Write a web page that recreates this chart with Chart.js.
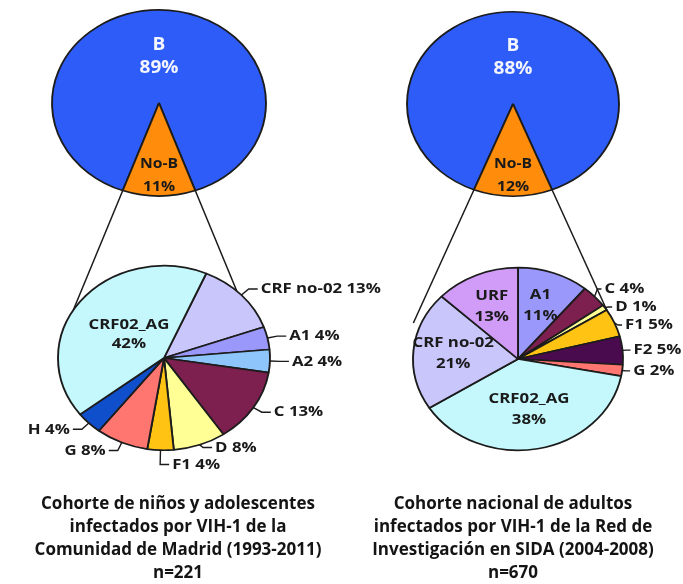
<!DOCTYPE html>
<html>
<head>
<meta charset="utf-8">
<script src="https://cdn.jsdelivr.net/npm/chart.js@4.4.1/dist/chart.umd.min.js"></script>
<style>
  html, body { margin: 0; padding: 0; background: #ffffff; }
  #stage { position: relative; width: 683px; height: 584px; overflow: hidden; }
  #stage canvas { position: absolute; left: 0; top: 0; }
  .cap {
    position: absolute; top: 491px; width: 380px;
    text-align: center; color: #141414;
    font: bold 17px "Open Sans", Lato, sans-serif; line-height: 23px;
  }
</style>
</head>
<body>
<div id="stage">
  <canvas id="splitMadrid" width="683" height="584"></canvas>
  <canvas id="splitRed" width="683" height="584"></canvas>
  <canvas id="subtypesMadrid" width="683" height="584"></canvas>
  <canvas id="subtypesRed" width="683" height="584"></canvas>
  <div class="cap" style="left:-12px">Cohorte de niños y adolescentes<br>infectados por VIH-1 de la<br>Comunidad de Madrid (1993-2011)<br>n=221</div>
  <div class="cap" style="left:323px">Cohorte nacional de adultos<br>infectados por VIH-1 de la Red de<br>Investigación en SIDA (2004-2008)<br>n=670</div>
</div>
<script>
// ---- data (percentages) ----
const splitLabels = ['B', 'No-B'];
const madridSplit = [89, 11];
const redSplit = [88, 12];

const madridSubtypes = ['CRF no-02', 'A1', 'A2', 'C', 'D', 'F1', 'G', 'H', 'CRF02_AG'];
const madridShares = [13, 4, 4, 13, 8, 4, 8, 4, 42];

const redSubtypes = ['A1', 'C', 'D', 'F1', 'F2', 'G', 'CRF02_AG', 'CRF no-02', 'URF'];
const redShares = [11, 4, 1, 5, 5, 2, 38, 21, 13];

// ---- styling ----
const subtypeColors = {
  'B': '#2e5cf8', 'No-B': '#ff8c0a',
  'CRF02_AG': '#c4f8fc', 'CRF no-02': '#c8c6fb', 'URF': '#d19cf7',
  'A1': '#9a98fa', 'A2': '#8ec5fa', 'C': '#7d1f4f', 'D': '#ffff96',
  'F1': '#ffc313', 'F2': '#4a0a4e', 'G': '#ff7570', 'H': '#0f4fcc'
};
const SQUASH = 0.87;    // vertical flattening of the pies
const STRETCH = 1.12;   // horizontal widening of the lettering
const INK = '#1a1a1a';
const FONT = '"Open Sans", Lato, sans-serif';
const W = 683, H = 584;

function drawText(ctx, text, x, y, align, size, color) {
  ctx.save();
  ctx.font = 'bold ' + size + 'px ' + FONT;
  ctx.fillStyle = color;
  ctx.textAlign = align;
  ctx.textBaseline = 'middle';
  ctx.translate(x, y);
  ctx.scale(STRETCH, 1);
  ctx.fillText(text, 0, 0);
  ctx.restore();
}

// flattens the round pie into an ellipse around its centre
const ellipsePlugin = {
  id: 'ellipse',
  beforeDatasetsDraw(chart) {
    const arc = chart.getDatasetMeta(0).data[0];
    const ctx = chart.ctx;
    ctx.save();
    ctx.translate(arc.x, arc.y);
    ctx.scale(1, SQUASH);
    ctx.translate(-arc.x, -arc.y);
  },
  afterDatasetsDraw(chart) {
    chart.ctx.restore();
  }
};

// value labels: two-line labels inside big slices, leader-line labels outside small ones
const sliceLabelPlugin = {
  id: 'sliceLabels',
  afterDraw(chart, args, o) {
    const ctx = chart.ctx;
    const meta = chart.getDatasetMeta(0);
    const values = chart.data.datasets[0].data;
    const outside = [];
    meta.data.forEach((arc, i) => {
      const name = chart.data.labels[i];
      const pct = values[i] + '%';
      const mid = (arc.startAngle + arc.endAngle) / 2;
      const R = arc.outerRadius;
      const cos = Math.cos(mid), sin = Math.sin(mid);
      const inside = o.inside[name];
      if (inside !== undefined) {
        const x = arc.x + cos * R * inside;
        const y = arc.y + sin * R * inside * SQUASH;
        const color = (o.light || []).includes(name) ? '#f4f6ff' : INK;
        const size = (o.sizes && o.sizes[name]) || o.size;
        drawText(ctx, name, x, y - o.lineGap / 2, 'center', size, color);
        drawText(ctx, pct, x, y + o.lineGap / 2, 'center', size, color);
      } else {
        const right = cos > -0.1;
        outside.push({
          text: name + ' ' + pct, right,
          ex: arc.x + cos * R, ey: arc.y + sin * R * SQUASH,
          tx: arc.x + cos * (R + o.leader), ty: arc.y + sin * (R + o.leader) * SQUASH
        });
      }
    });
    // spread labels on each side so they do not collide
    [true, false].forEach(side => {
      const group = outside.filter(l => l.right === side).sort((a, b) => a.ty - b.ty);
      for (let it = 0; it < 30; it++) {
        for (let j = 1; j < group.length; j++) {
          const d = group[j].ty - group[j - 1].ty;
          if (d < o.spacing) {
            const m = (o.spacing - d) / 2;
            group[j - 1].ty -= m;
            group[j].ty += m;
          }
        }
      }
    });
    ctx.save();
    ctx.strokeStyle = INK;
    ctx.lineWidth = 1.4;
    outside.forEach(l => {
      const dir = l.right ? 1 : -1;
      const endX = l.tx + dir * o.tail;
      ctx.beginPath();
      ctx.moveTo(l.ex, l.ey);
      ctx.lineTo(l.tx, l.ty);
      ctx.lineTo(endX, l.ty);
      ctx.stroke();
      drawText(ctx, l.text, endX + dir * 3, l.ty, l.right ? 'left' : 'right', o.size, INK);
    });
    ctx.restore();
  }
};

// lines that carry the No-B wedge of the upper pie down to the breakdown pie
function connectorsFrom(upper) {
  return {
    id: 'connectors',
    beforeDatasetsDraw(chart) {
      const arcs = upper.getDatasetMeta(0).data;
      const wedge = arcs[arcs.length - 1];
      const low = chart.getDatasetMeta(0).data[0];
      const rx = low.outerRadius, ry = low.outerRadius * SQUASH;
      const ctx = chart.ctx;
      ctx.save();
      ctx.strokeStyle = INK;
      ctx.lineWidth = 1.5;
      [wedge.startAngle, wedge.endAngle].forEach(a => {
        const ex = wedge.x + wedge.outerRadius * Math.cos(a);
        const ey = wedge.y + wedge.outerRadius * SQUASH * Math.sin(a);
        const dx = ex - wedge.x, dy = ey - wedge.y;
        const px = ex - low.x, py = ey - low.y;
        const A = dx * dx / (rx * rx) + dy * dy / (ry * ry);
        const B = 2 * (px * dx / (rx * rx) + py * dy / (ry * ry));
        const C = px * px / (rx * rx) + py * py / (ry * ry) - 1;
        const disc = Math.max(B * B - 4 * A * C, 0);
        const t = (-B - Math.sqrt(disc)) / (2 * A);
        ctx.beginPath();
        ctx.moveTo(ex, ey);
        ctx.lineTo(ex + t * dx, ey + t * dy);
        ctx.stroke();
      });
      ctx.restore();
    }
  };
}

function makePie(id, labels, values, panel, extraPlugins) {
  const [cx, cy] = panel.center;
  return new Chart(document.getElementById(id), {
    type: 'pie',
    data: {
      labels: labels,
      datasets: [{
        data: values,
        backgroundColor: labels.map(l => subtypeColors[l]),
        borderColor: '#1c1c1c',
        borderWidth: 1.9,
        radius: panel.radius,
        rotation: panel.rotation,
        clip: false
      }]
    },
    options: {
      responsive: false,
      animation: false,
      events: [],
      layout: {
        padding: {
          left: Math.max(0, 2 * cx - W), right: Math.max(0, W - 2 * cx),
          top: Math.max(0, 2 * cy - H), bottom: Math.max(0, H - 2 * cy)
        }
      },
      plugins: {
        legend: { display: false },
        tooltip: { enabled: false },
        sliceLabels: panel.labels
      }
    },
    plugins: (extraPlugins || []).concat([ellipsePlugin, sliceLabelPlugin])
  });
}

// upper pies: the No-B wedge is centred on the bottom
const splitLabelOpts = {
  inside: { 'B': 0.5, 'No-B': 0.78 }, light: ['B'], size: 14,
  sizes: { 'B': 17 }, lineGap: 23, leader: 0, tail: 0, spacing: 0
};
const upperMadrid = makePie('splitMadrid', splitLabels, madridSplit, {
  center: [159, 103], radius: 107, rotation: 180 + madridSplit[1] * 1.8, labels: splitLabelOpts
});
const upperRed = makePie('splitRed', splitLabels, redSplit, {
  center: [513, 104], radius: 106, rotation: 180 + redSplit[1] * 1.8, labels: splitLabelOpts
});

// lower pies: breakdown of the non-B subtypes
makePie('subtypesMadrid', madridSubtypes, madridShares, {
  center: [164, 358], radius: 106, rotation: 23.5,
  labels: { inside: { 'CRF02_AG': 0.42 }, size: 15, lineGap: 19, leader: 10, tail: 9, spacing: 17 }
}, [connectorsFrom(upperMadrid)]);

makePie('subtypesRed', redSubtypes, redShares, {
  center: [518, 359], radius: 105, rotation: 0,
  labels: {
    inside: { 'A1': 0.63, 'URF': 0.63, 'CRF no-02': 0.62, 'CRF02_AG': 0.56 },
    size: 15, lineGap: 21, leader: 4, tail: 4, spacing: 18
  }
}, [connectorsFrom(upperRed)]);
</script>
</body>
</html>
